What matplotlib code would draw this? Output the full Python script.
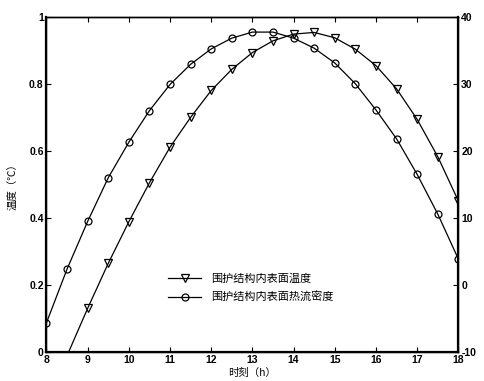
import matplotlib
matplotlib.use("Agg")
import matplotlib.pyplot as plt
from matplotlib.lines import Line2D

plt.rcParams['font.family'] = ['Liberation Sans', 'Noto Sans CJK SC', 'DejaVu Sans']

hours = [8, 8.5, 9, 9.5, 10, 10.5, 11, 11.5, 12, 12.5, 13, 13.5, 14,
         14.5, 15, 15.5, 16, 16.5, 17, 17.5, 18]

# inner surface temperature, left axis
temp = [-0.15, -0.01, 0.131, 0.265, 0.389, 0.505, 0.611, 0.70, 0.780, 0.843, 0.893,
        0.928, 0.948, 0.953, 0.937, 0.903, 0.854, 0.785, 0.694, 0.583, 0.451]

# inner surface heat flux density, right axis
flux = [-5.6, 2.4, 9.5, 16.0, 21.3, 26.0, 29.9, 32.9, 35.2, 36.8, 37.7,
        37.7, 36.8, 35.3, 33.1, 30.0, 26.1, 21.8, 16.5, 10.6, 3.9]

xticks = [8, 9, 10, 11, 12, 13, 14, 15, 16, 17, 18]
lticks = [0, 0.2, 0.4, 0.6, 0.8, 1]
lticklabels = ['0', '0.2', '0.4', '0.6', '0.8', '1']
rticks = [-10, 0, 10, 20, 30, 40]

names = ['围护结构内表面温度', '围护结构内表面热流密度']
cjk = ['Noto Sans CJK SC', 'DejaVu Sans']

fig = plt.figure(figsize=(4.84, 3.81), dpi=100)
ax = fig.add_axes([0.096, 0.0753, 0.851, 0.881])
ax2 = ax.twinx()

ax.plot(hours, temp, color='black', lw=0.9, marker='v', ms=5.5,
        mfc='none', mec='black', mew=0.9, markevery=slice(2, None))
ax2.plot(hours, flux, color='black', lw=0.9, marker='o', ms=5,
         mfc='none', mec='black', mew=0.9)

ax.set_xlim(8, 18)
ax.set_ylim(0, 1)
ax2.set_ylim(-10, 40)
ax.set_xticks(xticks)
ax.set_xticklabels([str(t) for t in xticks])
ax.set_yticks(lticks)
ax.set_yticklabels(lticklabels)
ax2.set_yticks(rticks)
ax2.set_yticklabels([str(t) for t in rticks])

for a in (ax, ax2):
    for s in a.spines.values():
        s.set_linewidth(1.0)
    a.tick_params(direction='in', length=3.5, width=0.8, labelsize=7.5, pad=2)
    for lab in a.get_xticklabels() + a.get_yticklabels():
        lab.set_fontweight('bold')
ax.tick_params(axis='x', top=True)
ax.spines['left'].set_linewidth(1.6)
ax.spines['bottom'].set_linewidth(1.6)
ax2.spines['right'].set_linewidth(1.6)

ax.set_xlabel('时刻（h）', family=cjk, fontsize=7.5)
ax.set_ylabel('温度（℃）', family=cjk, fontsize=7.5)
ax.xaxis.set_label_coords(0.5, -0.045)
ax.yaxis.set_label_coords(-0.068, 0.5)

handles = [Line2D([], [], color='black', lw=0.9, marker='v', ms=5.5, mfc='none', mew=0.9),
           Line2D([], [], color='black', lw=0.9, marker='o', ms=5, mfc='none', mew=0.9)]
leg = ax2.legend(handles, names, loc='upper left', bbox_to_anchor=(0.295, 0.235),
                 frameon=False, handlelength=3.0, handletextpad=0.9,
                 labelspacing=0.7, borderpad=0, borderaxespad=0,
                 prop={'family': cjk, 'size': 8})

fig.savefig('out.png', dpi=100)
